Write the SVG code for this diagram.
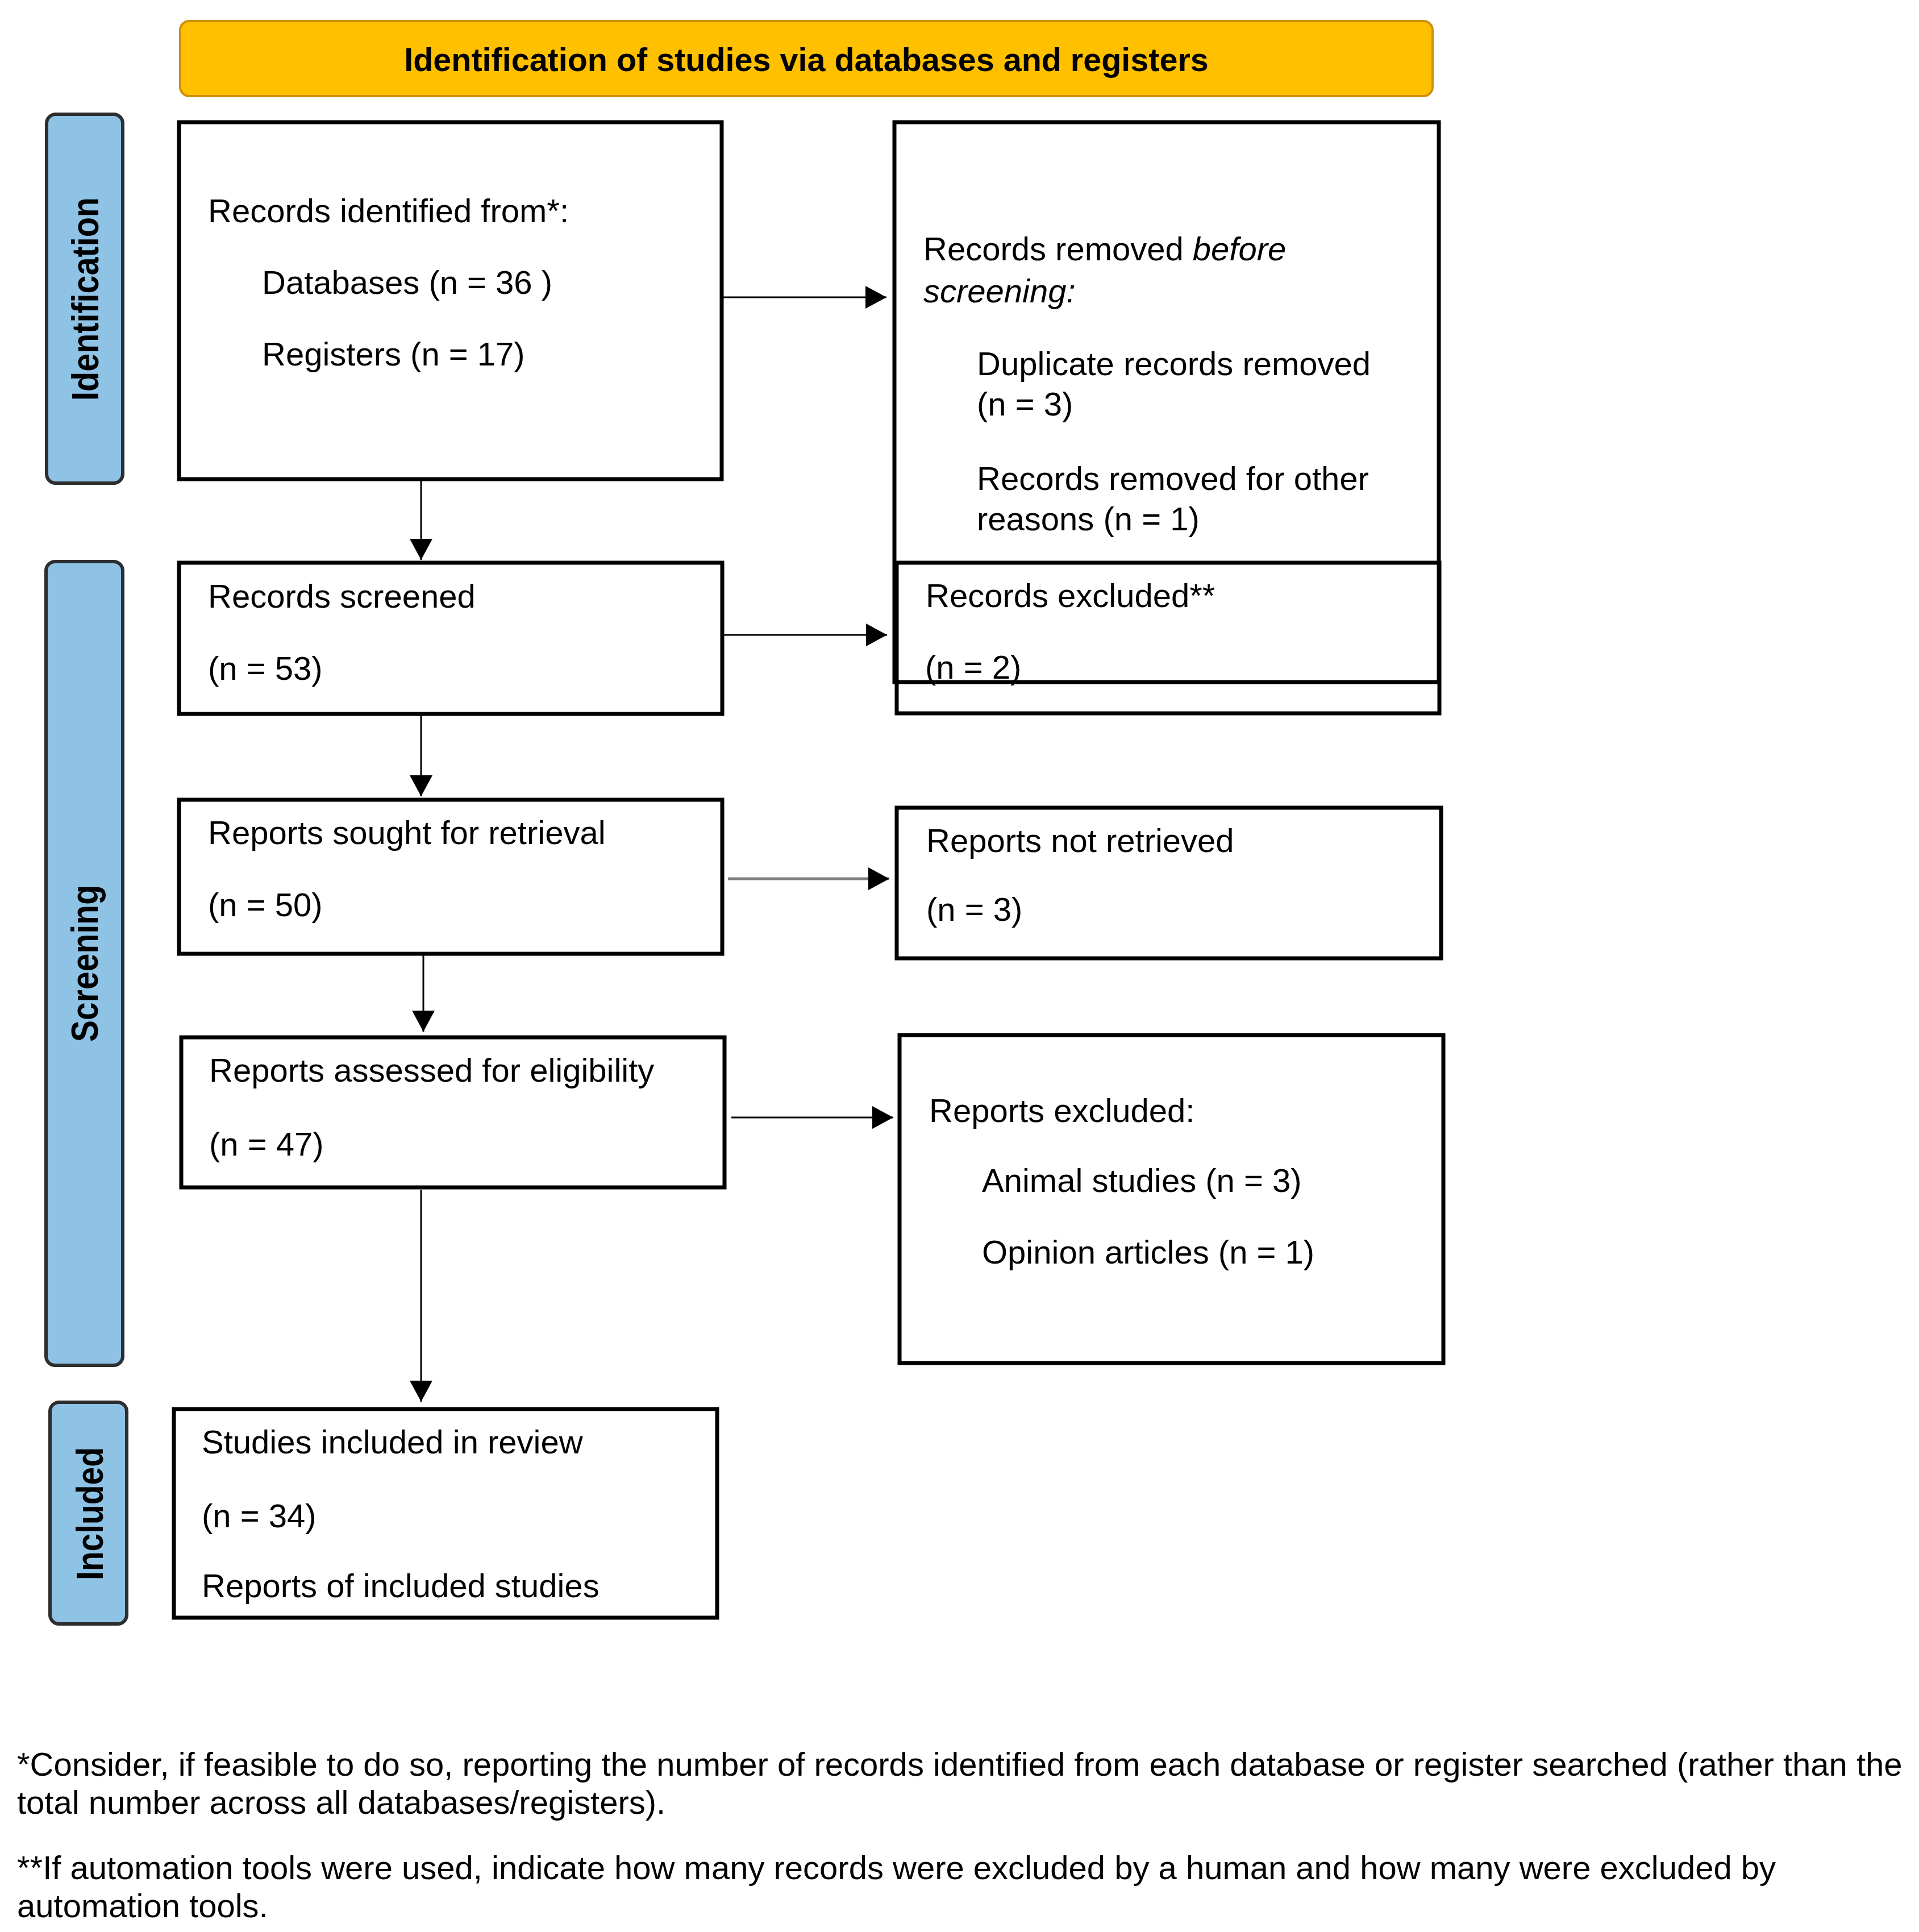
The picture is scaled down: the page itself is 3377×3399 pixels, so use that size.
<svg xmlns="http://www.w3.org/2000/svg" width="3377" height="3399" viewBox="0 0 3377 3399">
<defs>
<style>
.box{fill:#fff;stroke:#000;stroke-width:7}
.open{fill:none;stroke:#000;stroke-width:7}
.side{fill:#8EC3E6;stroke:#2e2e2e;stroke-width:6}
.t{font-family:"Liberation Sans",Arial,sans-serif;font-size:58px;fill:#000}
.hd{font-family:"Liberation Sans",Arial,sans-serif;font-size:57.5px;font-weight:bold;fill:#000}
.sl{font-family:"Liberation Sans",Arial,sans-serif;font-size:66px;font-weight:bold;fill:#000}
.fn{font-family:"Liberation Sans",Arial,sans-serif;font-size:58px;fill:#000}
.ln{fill:none;stroke:#000;stroke-width:3}
.gl{fill:none;stroke:#7f7f7f;stroke-width:5}
</style>
<marker id="ah" markerUnits="userSpaceOnUse" markerWidth="40" markerHeight="40" refX="37" refY="20" orient="auto">
<path d="M0,0 L37,20 L0,40 z" fill="#000"/>
</marker>
</defs>
<rect x="0" y="0" width="3377" height="3399" fill="#fff"/>

<g id="header">
<rect x="317" y="37" width="2204" height="132" rx="16" fill="#FFC000" stroke="#D0900A" stroke-width="4"/>
<text class="hd" x="1419" y="125" text-anchor="middle">Identification of studies via databases and registers</text>
</g>

<g id="side-identification">
<rect class="side" x="82" y="201" width="134" height="649" rx="16"/>
<text class="sl" transform="translate(173,526) rotate(-90)" text-anchor="middle" textLength="358" lengthAdjust="spacingAndGlyphs">Identification</text>
</g>
<g id="side-screening">
<rect class="side" x="81" y="988" width="135" height="1414" rx="16"/>
<text class="sl" transform="translate(172,1695) rotate(-90)" text-anchor="middle" textLength="276" lengthAdjust="spacingAndGlyphs">Screening</text>
</g>
<g id="side-included">
<rect class="side" x="88" y="2467" width="135" height="390" rx="16"/>
<text class="sl" transform="translate(181,2663) rotate(-90)" text-anchor="middle" textLength="234" lengthAdjust="spacingAndGlyphs">Included</text>
</g>

<g id="records-identified">
<rect class="box" x="315" y="215" width="955" height="628"/>
<text class="t" x="366" y="391">Records identified from*:</text>
<text class="t" x="461" y="517">Databases (n = 36 )</text>
<text class="t" x="461" y="643">Registers (n = 17)</text>
</g>

<g id="records-excluded">
<rect class="box" x="1578" y="990" width="955" height="265"/>
<text class="t" x="1629" y="1068">Records excluded**</text>
<text class="t" x="1628" y="1194">(n = 2)</text>
</g>

<g id="records-removed">
<rect class="open" x="1574" y="215" width="958" height="985"/>
<text class="t" x="1625" y="458">Records removed <tspan font-style="italic">before</tspan></text>
<text class="t" x="1625" y="532" font-style="italic">screening:</text>
<text class="t" x="1719" y="660">Duplicate records removed</text>
<text class="t" x="1719" y="731">(n = 3)</text>
<text class="t" x="1719" y="862">Records removed for other</text>
<text class="t" x="1719" y="933">reasons (n = 1)</text>
</g>

<g id="records-screened">
<rect class="box" x="315" y="990" width="956" height="266"/>
<text class="t" x="366" y="1069">Records screened</text>
<text class="t" x="366" y="1196">(n = 53)</text>
</g>

<g id="reports-sought">
<rect class="box" x="315" y="1407" width="956" height="271"/>
<text class="t" x="366" y="1485">Reports sought for retrieval</text>
<text class="t" x="366" y="1612">(n = 50)</text>
</g>

<g id="reports-not-retrieved">
<rect class="box" x="1578" y="1421" width="958" height="265"/>
<text class="t" x="1630" y="1499">Reports not retrieved</text>
<text class="t" x="1630" y="1620">(n = 3)</text>
</g>

<g id="reports-assessed">
<rect class="box" x="319" y="1825" width="956" height="264"/>
<text class="t" x="368" y="1903">Reports assessed for eligibility</text>
<text class="t" x="368" y="2033">(n = 47)</text>
</g>

<g id="reports-excluded">
<rect class="box" x="1583" y="1821" width="957" height="577"/>
<text class="t" x="1635" y="1974">Reports excluded:</text>
<text class="t" x="1728" y="2097">Animal studies (n = 3)</text>
<text class="t" x="1728" y="2223">Opinion articles (n = 1)</text>
</g>

<g id="studies-included">
<rect class="box" x="306" y="2479" width="956" height="367"/>
<text class="t" x="355" y="2557">Studies included in review</text>
<text class="t" x="355" y="2687">(n = 34)</text>
<text class="t" x="355" y="2810">Reports of included studies</text>
</g>

<g id="connectors">
<path class="ln" d="M1270,523 H1560" marker-end="url(#ah)"/>
<path class="ln" d="M741,846 V985" marker-end="url(#ah)"/>
<path class="ln" d="M1271,1117 H1561" marker-end="url(#ah)"/>
<path class="ln" d="M741,1259 V1401" marker-end="url(#ah)"/>
<path class="gl" d="M1281,1546 H1565" marker-end="url(#ah)"/>
<path class="ln" d="M745,1681 V1815" marker-end="url(#ah)"/>
<path class="ln" d="M1287,1966 H1572" marker-end="url(#ah)"/>
<path class="ln" d="M741,2093 V2466" marker-end="url(#ah)"/>
</g>

<g id="footnotes">
<text class="fn" x="30" y="3124">*Consider, if feasible to do so, reporting the number of records identified from each database or register searched (rather than the</text>
<text class="fn" x="30" y="3191">total number across all databases/registers).</text>
<text class="fn" x="30" y="3306">**If automation tools were used, indicate how many records were excluded by a human and how many were excluded by</text>
<text class="fn" x="30" y="3373">automation tools.</text>
</g>
</svg>
